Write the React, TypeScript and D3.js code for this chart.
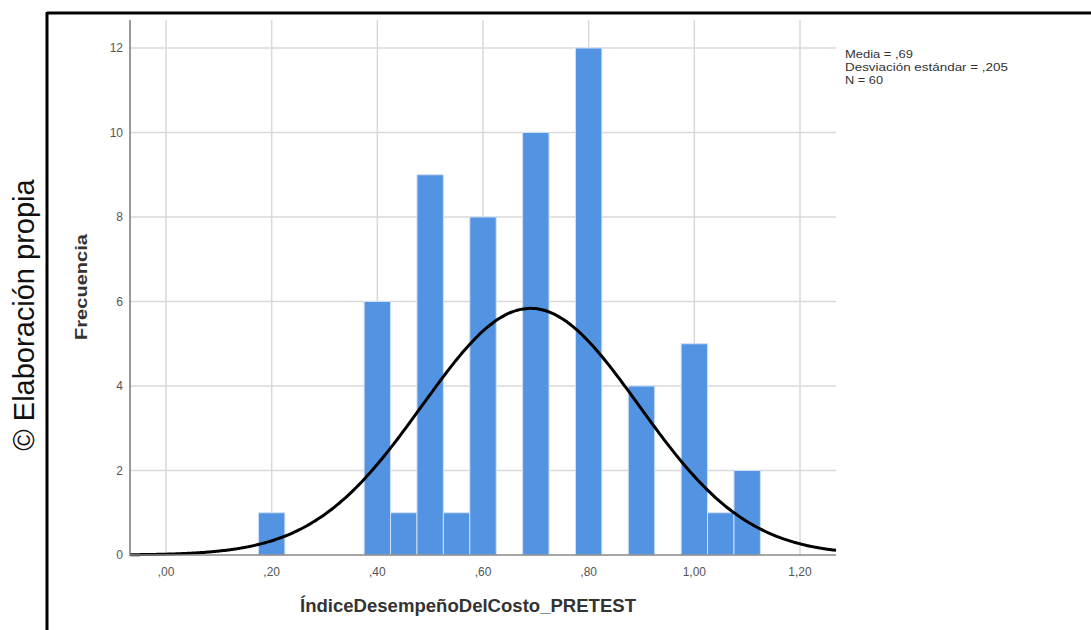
import { useEffect, useRef } from 'react';
import * as d3 from 'd3';

// histogram bins (centre of each bin) and their frequencies
const binCenters = [0.2, 0.4, 0.45, 0.5, 0.55, 0.6, 0.7, 0.8, 0.9, 1.0, 1.05, 1.1];
const counts = [1, 6, 1, 9, 1, 8, 10, 12, 4, 5, 1, 2];
const binWidth = 0.05;

const xTicks = [0, 0.2, 0.4, 0.6, 0.8, 1.0, 1.2];
const xTickLabels = [',00', ',20', ',40', ',60', ',80', '1,00', '1,20'];
const yTicks = [0, 2, 4, 6, 8, 10, 12];

// stats shown in the legend, used for the fitted normal curve
const mean = 0.69;
const sd = 0.205;
const n = 60;
const legendLines = ['Media = ,69', 'Desviación estándar = ,205', 'N = 60'];
const legendWidths = [68, 163, 38];

function App() {
  const axisRef = useRef<SVGGElement>(null);

  const width = 1091;
  const height = 630;

  const plotLeft = 130;
  const plotRight = 836;
  const plotTop = 20;
  const plotBottom = 555;

  const xScale = d3.scaleLinear()
    .domain([0, 1.2])
    .range([166, 800]);
  const yScale = d3.scaleLinear()
    .domain([0, 12])
    .range([plotBottom, 48]);

  const xMin = xScale.invert(plotLeft);
  const xMax = xScale.invert(plotRight);

  const curveXs = d3.range(0, 301).map(i => xMin + (xMax - xMin) * i / 300);
  const density = (x: number) =>
    n * binWidth * Math.exp(-0.5 * ((x - mean) / sd) ** 2) / (sd * Math.sqrt(2 * Math.PI));

  const line = d3.line<number>()
    .x(d => xScale(d))
    .y(d => yScale(density(d)))
    .curve(d3.curveBasis);

  useEffect(() => {
    // nothing dynamic; axes drawn as JSX below
  }, [axisRef]);

  const font = 'Arial, "Liberation Sans", sans-serif';

  return (
    <div style={{ position: 'fixed', left: 0, top: 0 }}>
      <svg width={width} height={height} viewBox={`0 0 ${width} ${height}`} style={{ display: 'block', background: 'white' }}>
        {/* frame */}
        <line x1={47} y1={13} x2={width} y2={13} stroke="black" strokeWidth={3} />
        <line x1={47} y1={12} x2={47} y2={height} stroke="black" strokeWidth={3} />

        {/* source note */}
        <text
          transform={`translate(34, 315) rotate(-90)`}
          textAnchor="middle"
          style={{ fontFamily: font, fontSize: '29px', fill: '#111' }}
        >© Elaboración propia</text>

        {/* grid */}
        <g stroke="#d9d9d9" strokeWidth={1.5}>
          {xTicks.map((t, i) => (
            <line key={i} x1={xScale(t)} x2={xScale(t)} y1={plotTop} y2={plotBottom} />
          ))}
          {yTicks.filter(t => t > 0).map((t, i) => (
            <line key={i} x1={plotLeft} x2={plotRight} y1={yScale(t)} y2={yScale(t)} />
          ))}
        </g>

        {/* bars */}
        <g fill="#5294e2" stroke="#cfe0f5" strokeWidth={1}>
          {binCenters.map((c, i) => (
            <rect
              key={i}
              x={xScale(c - binWidth / 2)}
              y={yScale(counts[i])}
              width={xScale(c + binWidth / 2) - xScale(c - binWidth / 2)}
              height={yScale(0) - yScale(counts[i])}
            />
          ))}
        </g>

        {/* normal curve */}
        <path d={line(curveXs) || ''} fill="none" stroke="black" strokeWidth={3} />

        {/* axes */}
        <g ref={axisRef}>
          <line x1={plotLeft} x2={plotLeft} y1={plotTop} y2={plotBottom + 1} stroke="#777" strokeWidth={1.5} />
          <line x1={plotLeft} x2={plotRight} y1={plotBottom} y2={plotBottom} stroke="#888" strokeWidth={1.5} />
        </g>

        <g style={{ fontFamily: font, fontSize: '12px', fill: '#555' }}>
          {yTicks.map((t, i) => (
            <text key={i} x={123} y={yScale(t)} dy="0.35em" textAnchor="end">{t}</text>
          ))}
          {xTicks.map((t, i) => (
            <text key={i} x={xScale(t)} y={576} textAnchor="middle">{xTickLabels[i]}</text>
          ))}
        </g>

        {/* axis titles */}
        <text
          transform={`translate(87, 287) rotate(-90)`}
          textAnchor="middle"
          textLength={106}
          lengthAdjust="spacingAndGlyphs"
          style={{ fontFamily: font, fontSize: '16px', fontWeight: 'bold', fill: '#333' }}
        >Frecuencia</text>
        <text
          x={468}
          y={612}
          textAnchor="middle"
          textLength={336}
          lengthAdjust="spacingAndGlyphs"
          style={{ fontFamily: font, fontSize: '18px', fontWeight: 'bold', fill: '#333' }}
        >ÍndiceDesempeñoDelCosto_PRETEST</text>

        {/* legend */}
        <g style={{ fontFamily: font, fontSize: '11px', fill: '#333' }}>
          {legendLines.map((s, i) => (
            <text key={i} x={845} y={58 + i * 13} textLength={legendWidths[i]} lengthAdjust="spacingAndGlyphs">{s}</text>
          ))}
        </g>
      </svg>
    </div>
  );
}

export default App;
